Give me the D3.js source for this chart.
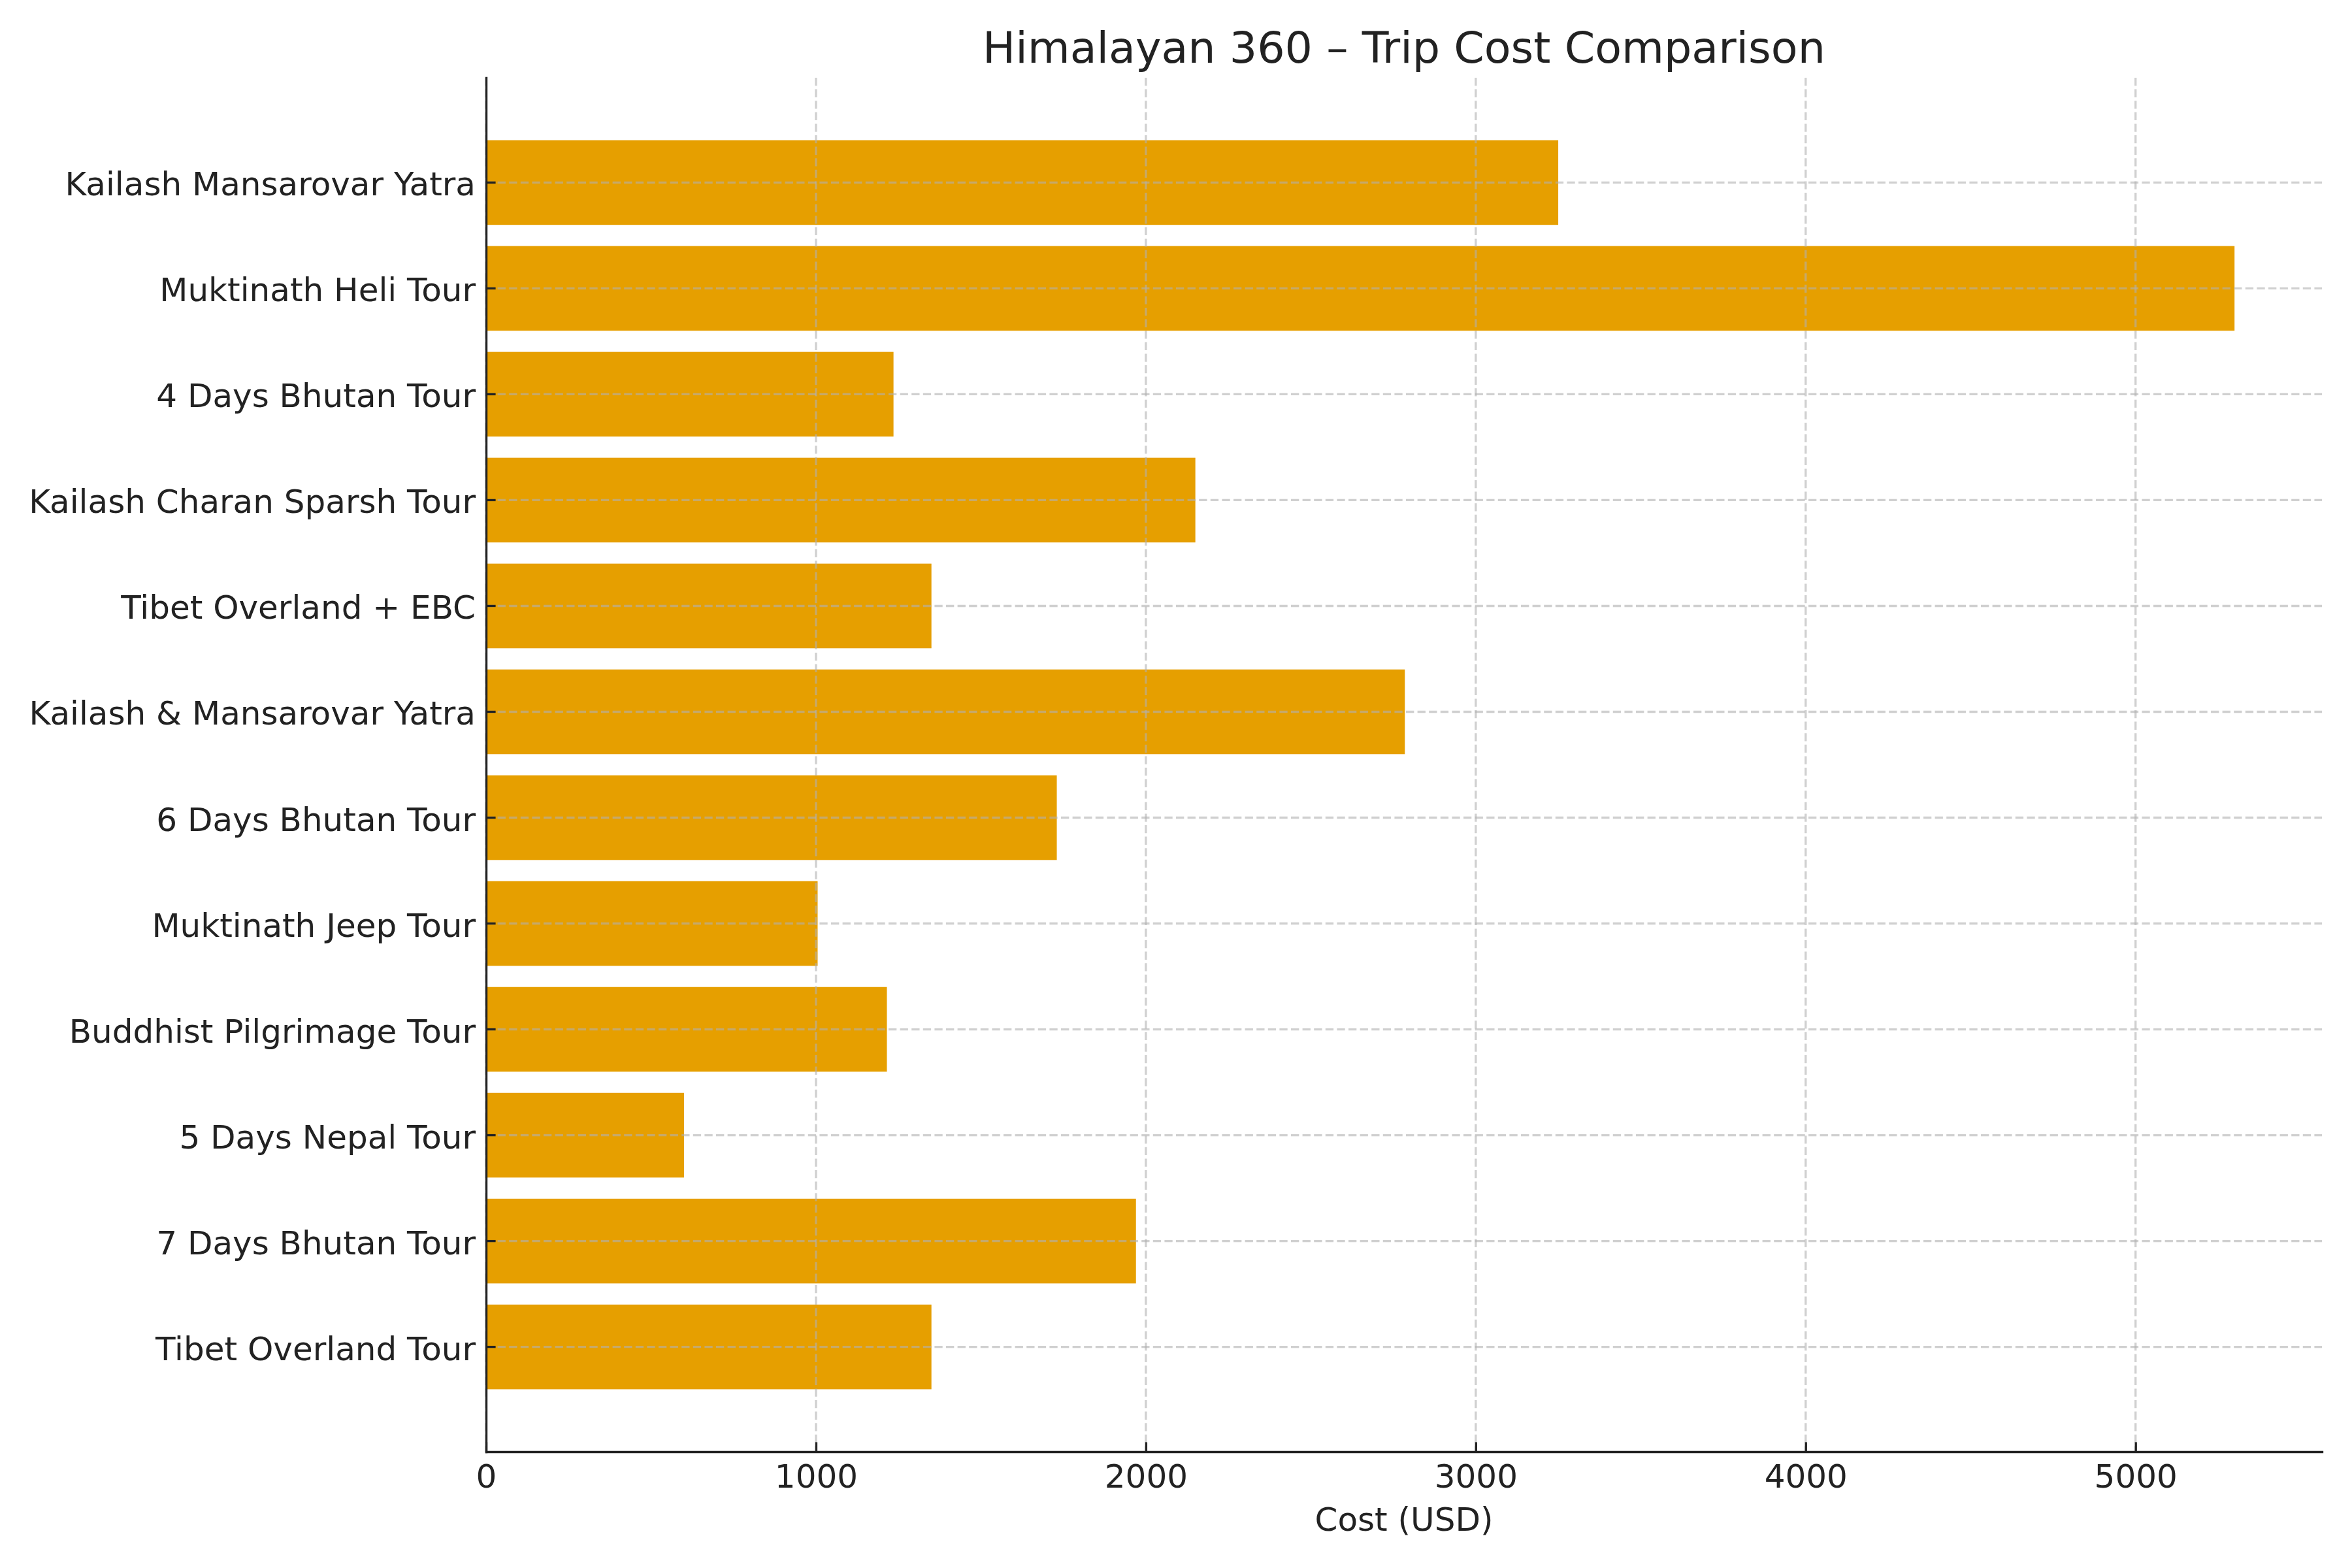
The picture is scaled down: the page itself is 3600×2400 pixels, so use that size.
<!DOCTYPE html>
<html>
<head>
<meta charset="utf-8">
<script src="https://cdn.jsdelivr.net/npm/d3@7"></script>
<style>
    html, body { margin: 0; padding: 0; background: #ffffff; }
    svg { display: block; }
    text { font-family: "DejaVu Sans", sans-serif; fill: #222222; }
</style>
</head>
<body>
<script>

//////////////////////
// Data
//////////////////////

var trips = [
    "Kailash Mansarovar Yatra",
    "Muktinath Heli Tour",
    "4 Days Bhutan Tour",
    "Kailash Charan Sparsh Tour",
    "Tibet Overland + EBC",
    "Kailash & Mansarovar Yatra",
    "6 Days Bhutan Tour",
    "Muktinath Jeep Tour",
    "Buddhist Pilgrimage Tour",
    "5 Days Nepal Tour",
    "7 Days Bhutan Tour",
    "Tibet Overland Tour"
];

var costs = [3250, 5300, 1235, 2150, 1350, 2785, 1730, 1005, 1215, 600, 1970, 1350];

var xTicks = [0, 1000, 2000, 3000, 4000, 5000];

var chartTitle = "Himalayan 360 \u2013 Trip Cost Comparison";
var xLabel = "Cost (USD)";


//////////////////////
// Layout
//////////////////////

var width = 3600,
    height = 2400;

var plot = { left: 744, right: 3554, top: 119, bottom: 2222 };

var barColor = "#E69F00",
    inkColor = "#222222",
    gridColor = "#b0b0b0";

var spineWidth = 3.33,
    tickLen = 14.6;

var svg = d3.select("body").append("svg")
    .attr("width", width)
    .attr("height", height);


//////////////////////
// Scales
//////////////////////

// matplotlib style: 5% margin on the right, bars stick to zero
var x = d3.scaleLinear()
    .domain([0, d3.max(costs) * 1.05])
    .range([plot.left, plot.right]);

var y = d3.scaleBand()
    .domain(trips)
    .range([plot.top, plot.bottom])
    .paddingInner(0.2)
    .paddingOuter(0.59);


//////////////////////
// Bars
//////////////////////

svg.append("g").attr("class", "bars")
    .selectAll("rect")
    .data(trips)
    .enter()
    .append("rect")
        .attr("x", x(0))
        .attr("y", function(d) { return y(d); })
        .attr("width", function(d, i) { return x(costs[i]) - x(0); })
        .attr("height", y.bandwidth())
        .attr("fill", barColor);


//////////////////////
// Grid (drawn over the bars)
//////////////////////

var grid = svg.append("g").attr("class", "grid")
    .attr("stroke", gridColor)
    .attr("stroke-opacity", 0.6)
    .attr("stroke-width", spineWidth)
    .attr("stroke-dasharray", "12.3,5.3");

grid.selectAll("line.v")
    .data(xTicks)
    .enter()
    .append("line")
        .attr("class", "v")
        .attr("x1", function(d) { return x(d); })
        .attr("x2", function(d) { return x(d); })
        .attr("y1", plot.top)
        .attr("y2", plot.bottom);

grid.selectAll("line.h")
    .data(trips)
    .enter()
    .append("line")
        .attr("class", "h")
        .attr("x1", plot.left)
        .attr("x2", plot.right)
        .attr("y1", function(d) { return y(d) + y.bandwidth() / 2; })
        .attr("y2", function(d) { return y(d) + y.bandwidth() / 2; });


//////////////////////
// Axes
//////////////////////

var xAxis = d3.axisBottom(x)
    .tickValues(xTicks)
    .tickFormat(d3.format("d"))
    .tickSizeInner(-tickLen)
    .tickSizeOuter(0)
    .tickPadding(19.5);

var yAxis = d3.axisLeft(y)
    .tickSizeInner(-tickLen)
    .tickSizeOuter(0)
    .tickPadding(16);

var gx = svg.append("g")
    .attr("class", "x axis")
    .attr("transform", "translate(0," + plot.bottom + ")")
    .call(xAxis);

var gy = svg.append("g")
    .attr("class", "y axis")
    .attr("transform", "translate(" + plot.left + ",0)")
    .call(yAxis);

[gx, gy].forEach(function(g) {
    g.attr("font-family", null).attr("font-size", null);
    g.select(".domain")
        .attr("stroke", inkColor)
        .attr("stroke-width", spineWidth)
        .attr("stroke-linecap", "square");
    g.selectAll(".tick line")
        .attr("stroke", inkColor)
        .attr("stroke-width", spineWidth);
    g.selectAll(".tick text")
        .attr("fill", inkColor)
        .style("font-size", "50px");
});

// labels sit a touch lower than d3's default centring
gy.selectAll(".tick text").attr("dy", "0.4em");


//////////////////////
// Titles
//////////////////////

var midX = (plot.left + plot.right) / 2;

svg.append("text")
    .attr("x", midX)
    .attr("y", 96)
    .attr("text-anchor", "middle")
    .style("font-size", "66.7px")
    .text(chartTitle);

svg.append("text")
    .attr("x", midX)
    .attr("y", 2343)
    .attr("text-anchor", "middle")
    .style("font-size", "50px")
    .text(xLabel);

</script>
</body>
</html>
